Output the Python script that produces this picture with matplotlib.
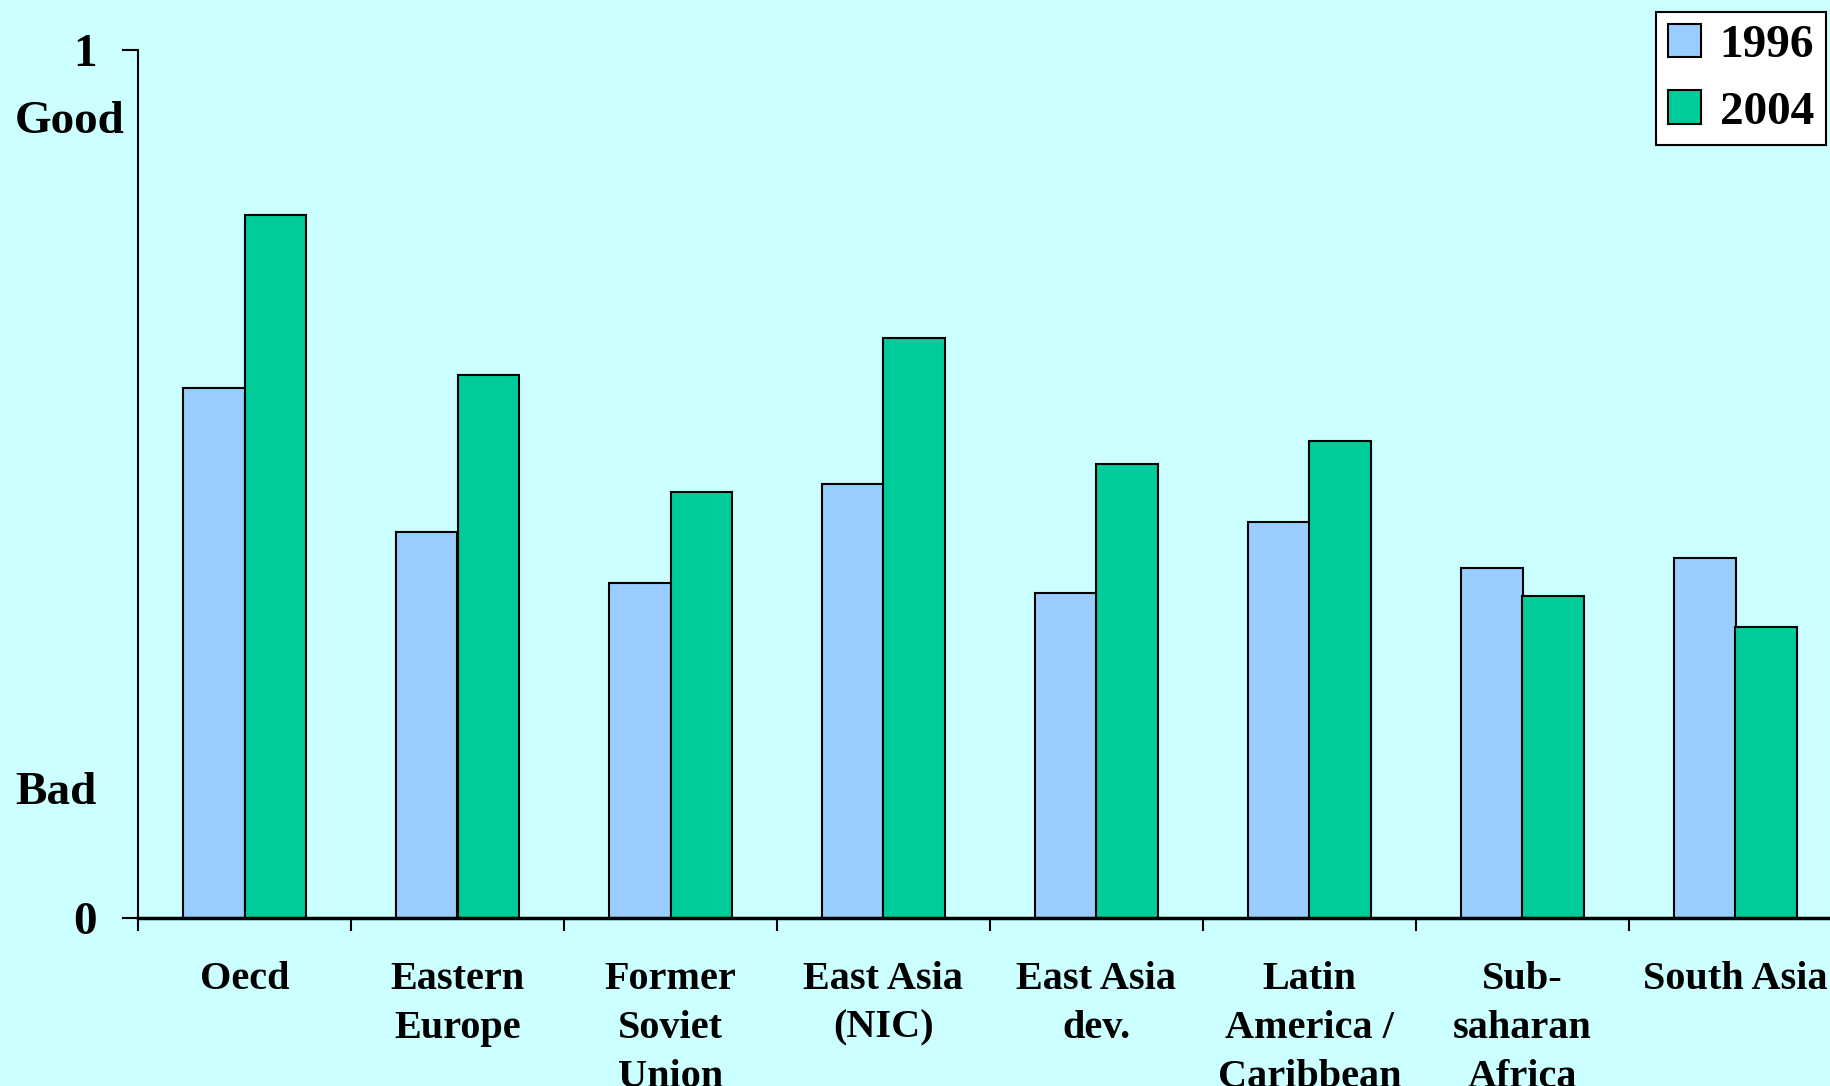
import matplotlib.pyplot as plt
import matplotlib.transforms as mtransforms
import numpy as np

# Données
regions = ['Oecd', 'Eastern\nEurope', 'Former\nSoviet\nUnion', 'East Asia\n(NIC)',
           'East Asia\ndev.', 'Latin\nAmerica /\nCaribbean', 'Sub-\nsaharan\nAfrica', 'South Asia']
v1996 = [0.610, 0.445, 0.386, 0.500, 0.374, 0.456, 0.403, 0.415]
v2004 = [0.810, 0.626, 0.491, 0.668, 0.523, 0.550, 0.371, 0.335]
years = ['1996', '2004']

fond = '#CCFFFF'
plt.rcParams['font.family'] = 'Liberation Serif'
plt.rcParams['font.weight'] = 'bold'

fig = plt.figure(figsize=(18.3, 10.86), dpi=100, facecolor=fond)
ax = fig.add_axes([138 / 1830, 0.1547, 1704 / 1830, 0.954 - 0.1547], facecolor=fond)

x = np.arange(len(regions))
w = 0.29
ax.bar(x - w / 2, v1996, w, color='#99CCFF', edgecolor='black', linewidth=1.5, label=years[0])
ax.bar(x + w / 2, v2004, w, color='#00CC99', edgecolor='black', linewidth=1.5, label=years[1])

ax.set_xlim(-0.5, len(regions) - 0.5)
ax.set_ylim(0, 1)

# Axes : seulement gauche et bas
for s in ['top', 'right']:
    ax.spines[s].set_visible(False)
ax.spines['left'].set_linewidth(1.5)
ax.spines['bottom'].set_linewidth(2.5)

ax.set_yticks([0, 1])
ax.set_yticklabels(['0', '1'], fontsize=34, fontweight='bold')
ax.tick_params(axis='y', length=11.5, width=1.5, pad=18)

ax.set_xticks(x)
ax.set_xticklabels(regions, fontsize=29, fontweight='bold', linespacing=1.42)
ax.set_xticks(np.arange(len(regions) + 1) - 0.5, minor=True)
ax.tick_params(axis='x', which='major', length=0, pad=31)
ax.tick_params(axis='x', which='minor', length=9, width=1.5)

# Annotations Good / Bad
trans = mtransforms.blended_transform_factory(fig.transFigure, ax.transData)
ax.text(15 / 1830, 0.917, 'Good', transform=trans, fontsize=34, fontweight='bold',
        ha='left', va='center')
ax.text(15 / 1830, 0.144, 'Bad', transform=trans, fontsize=34, fontweight='bold',
        ha='left', va='center')

leg = ax.legend(loc='upper right', bbox_to_anchor=(1826 / 1830, 1 - 12 / 1086),
                bbox_transform=fig.transFigure, fontsize=34, fancybox=False,
                framealpha=1, edgecolor='black', handlelength=0.7, handleheight=0.7,
                handletextpad=0.4, labelspacing=0.5, borderpad=0.25, borderaxespad=0)
leg.get_frame().set_linewidth(1.5)
for t in leg.get_texts():
    t.set_fontweight('bold')

plt.savefig('out.png', dpi=100, facecolor=fond)
